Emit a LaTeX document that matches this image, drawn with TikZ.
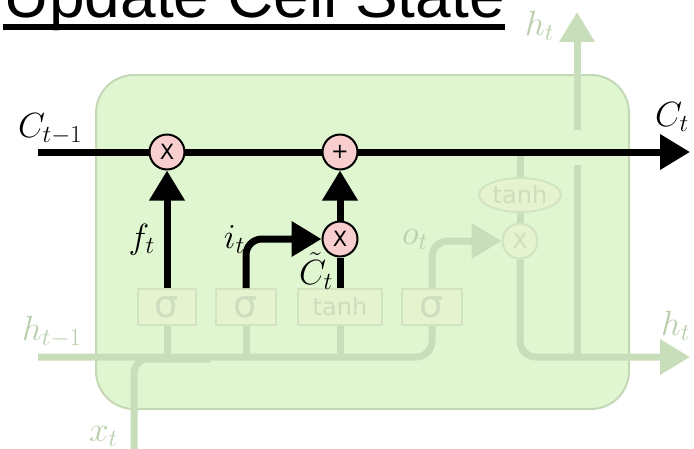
\RequirePackage{fix-cm}
\documentclass[tikz,border=0pt]{standalone}
\usepackage{amsmath}
\usepackage{fontspec}
\usetikzlibrary{arrows.meta,positioning,shapes.geometric,calc}
\newfontfamily\titlefont{Liberation Sans}
\newfontfamily\gatefont{DejaVu Sans}
\definecolor{cellfill}{RGB}{224,246,208}
\definecolor{celledge}{RGB}{196,216,182}
\definecolor{fadeline}{RGB}{200,221,186}
\definecolor{fadetext}{RGB}{184,206,170}
\definecolor{gatefill}{RGB}{229,243,207}
\definecolor{gateedge}{RGB}{210,227,194}
\definecolor{gatetext}{RGB}{205,222,190}
\definecolor{opfill}{RGB}{248,206,206}

\begin{document}
\begin{tikzpicture}[x=1pt,y=-1pt,
    bline/.style={line width=7pt,black},
    fline/.style={line width=7pt,fadeline},
    tip/.style={-{Triangle[length=30pt,width=34pt]}},
    gatebox/.style={draw=gateedge,line width=2pt,fill=gatefill,text=gatetext,
      minimum height=36pt,inner sep=0pt,font=\gatefont\fontsize{38}{38}\selectfont},
    op/.style={circle,draw,line width=2pt,fill=opfill,minimum size=35pt,
      inner sep=0pt,font=\gatefont\fontsize{21}{21}\selectfont},
    lbl/.style={anchor=base west,inner sep=0pt,font=\fontsize{35}{40}\selectfont},
    flbl/.style={lbl,text=fadetext}]
      \useasboundingbox (0,0) rectangle (694,448);
      \clip (0,0) rectangle (694,448);
      % Title
      \node[anchor=base west,inner sep=0pt,font=\titlefont\fontsize{64}{64}\selectfont] (title) at (3,17) {Update Cell State};
      \draw[line width=6pt] ($(title.base west)+(0,10)$) -- ($(title.base east)+(0,10)$);
      % Cell
      \draw[draw=celledge,line width=2pt,fill=cellfill,rounded corners=38pt] (96,75) rectangle (629,409);
      \coordinate (cin) at (38,152);
      \coordinate (cout) at (690,152);
      \coordinate (hin) at (38,357);
      \coordinate (hout) at (690,357);
      \coordinate (xin) at (134,452);
      \coordinate (xjoin) at (210,359);
      \coordinate (hup) at (577,130);
      \coordinate (hdown) at (577,165);
      \coordinate (htop) at (577,12);
      \coordinate (ctap) at (520,152);
      % Faded gates
      \node[gatebox,minimum width=58pt] (fgate) at (167,307) {σ};
      \node[gatebox,minimum width=60pt] (igate) at (246,307) {σ};
      \node[gatebox,minimum width=84pt,font=\gatefont\fontsize{24}{24}\selectfont] (cgate) at (340,307) {tanh};
      \node[gatebox,minimum width=60pt] (ogate) at (432,307) {σ};
      \node[ellipse,draw=gateedge,line width=2pt,fill=gatefill,text=gatetext,minimum width=82pt,
        minimum height=34pt,inner sep=0pt,font=\gatefont\fontsize{24}{24}\selectfont] (tanhc) at (520,195) {tanh};
      \node[op,draw=gateedge,fill=gatefill,text=gatetext] (omult) at (520,241) {X};
      % Faded lines
      \draw[fline,rounded corners=16pt] (hin) -- (hin -| ogate.south) -- (ogate.south);
      \draw[fline,rounded corners=14pt] (xin) -- (xin |- xjoin) -- (xjoin);
      \foreach \g in {fgate,igate,cgate}{
        \draw[fline] (\g.south) -- (\g.south |- hin);
      }
      \draw[fline,rounded corners=16pt,tip] (ogate.north) -- (ogate.north |- omult) -- (omult.west);
      \draw[fline] (ctap) -- (tanhc.north);
      \draw[fline] (tanhc.south) -- (omult.north);
      \draw[fline,rounded corners=16pt,tip] (omult.south) -- (omult.south |- hout) -- (hout);
      \draw[fline] (hdown) -- (hdown |- hout);
      \draw[fline,tip] (hup) -- (htop);
      % Cell state
      \draw[bline,tip] (cin) -- (cout);
      \node[op] (fmult) at (167,152) {X};
      \node[op] (cadd) at (340,152) {+};
      \node[op] (imult) at (340,239) {X};
      \draw[bline,tip] (fgate.north) -- (fmult.south);
      \draw[bline,rounded corners=16pt,tip] (igate.north) -- (igate.north |- imult) -- (imult.west);
      \draw[bline] (cgate.north) -- (imult.south);
      \draw[bline,tip] (imult.north) -- (cadd.south);
      % Labels
      \node[lbl] (lcprev) at (18,137) {$C_{t-1}$};
      \node[lbl] (lcnext) at (655,126) {$C_t$};
      \node[lbl,anchor=base east] (lf) at (155,248) {$f_t$};
      \node[lbl,anchor=base east] (li) at (245,248) {$i_t$};
      \node[lbl,anchor=base east] (lct) at (333,284) {$\tilde{C}_t$};
      \node[flbl] (lo) at (402,244) {$o_t$};
      \node[flbl] (lhtop) at (525,35) {$h_t$};
      \node[flbl] (lhprev) at (22,340) {$h_{t-1}$};
      \node[flbl] (lhnext) at (661,335) {$h_t$};
      \node[flbl] (lx) at (89,441) {$x_t$};
    \end{tikzpicture}
\end{document}
